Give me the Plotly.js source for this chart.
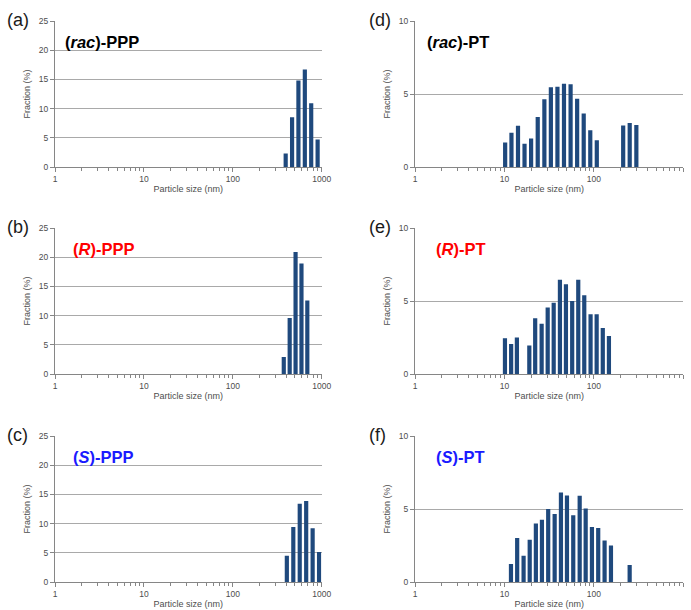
<!DOCTYPE html>
<html><head><meta charset="utf-8">
<script src="https://cdn.plot.ly/plotly-3.0.1.min.js"></script>
<style>html,body{margin:0;padding:0;background:#fff}#chart{width:691px;height:610px}</style>
</head><body><div id="chart"></div>
<script>
// ---- data ----
const sizesA = [394, 465, 548, 647, 763, 901];
const fracA  = [2.3, 8.5, 14.8, 16.7, 10.9, 4.7];
const sizesB = [375, 437, 509, 593, 690];
const fracB  = [2.9, 9.6, 20.9, 18.9, 12.6];
const sizesC = [406, 480, 567, 670, 792, 935];
const fracC  = [4.5, 9.4, 13.4, 13.85, 9.2, 5.15];
const sizesD = [10.2, 12.0, 14.2, 16.8, 19.9, 23.6, 28.0, 33.1, 39.2, 46.4, 55.0, 65.1, 77.1, 91.3, 108, 213, 252, 299];
const fracD  = [1.67, 2.35, 2.83, 1.6, 1.96, 3.43, 4.64, 5.47, 5.5, 5.7, 5.66, 4.67, 3.66, 2.52, 1.84, 2.85, 3.02, 2.87];
const sizesE = [10.15, 11.9, 13.8, 19.0, 22.1, 26.1, 30.5, 35.6, 41.8, 48.8, 57.3, 67, 78.2, 92, 107.6, 126, 147.6];
const fracE  = [2.45, 2.06, 2.5, 1.95, 3.82, 3.45, 4.56, 4.88, 6.45, 6.15, 5.0, 6.46, 5.4, 4.1, 4.1, 3.15, 2.6];
const sizesF = [11.85, 13.9, 16.4, 19.2, 22.5, 26.3, 30.9, 36.5, 42.9, 50.1, 58.9, 69.5, 81.1, 95.3, 112, 132, 155.5, 251.7];
const fracF  = [1.24, 3.02, 1.79, 2.9, 4.0, 4.27, 5.0, 4.66, 6.13, 5.92, 4.57, 5.91, 5.04, 3.77, 3.7, 2.85, 2.5, 1.17];
const xTickVals = [1, 10, 100, 1000];
const xTickText = ['1', '10', '100', '1000'];
const panelLetters = ['(a)', '(b)', '(c)', '(d)', '(e)', '(f)'];
const panelTitles = ['<b>(<i>rac</i>)-PPP</b>', '<b>(<i>R</i>)-PPP</b>', '<b>(<i>S</i>)-PPP</b>',
                     '<b>(<i>rac</i>)-PT</b>', '<b>(<i>R</i>)-PT</b>', '<b>(<i>S</i>)-PT</b>'];
const titleColors = ['#000000', '#ff0000', '#1a1aff', '#000000', '#ff0000', '#1a1aff'];

// ---- layout geometry ----
const W = 691, H = 610;
const FONT = 'Liberation Sans, Arial, sans-serif';
const cols = [[55, 321.7], [415, 683.3]];
const rows = [[21, 167], [228, 374], [436, 582]];
const panels = [
  {sx: sizesA, fy: fracA, col: 0, row: 0, ymax: 25},
  {sx: sizesB, fy: fracB, col: 0, row: 1, ymax: 25},
  {sx: sizesC, fy: fracC, col: 0, row: 2, ymax: 25},
  {sx: sizesD, fy: fracD, col: 1, row: 0, ymax: 10},
  {sx: sizesE, fy: fracE, col: 1, row: 1, ymax: 10},
  {sx: sizesF, fy: fracF, col: 1, row: 2, ymax: 10}
];
const minorVals = [];
for (let d = 1; d < 1000; d *= 10) for (let k = 2; k <= 9; k++) minorVals.push(k * d);

const axisGray = '#868686', textGray = '#4d4d4d';
const widthFactor = 0.108;
const data = [];
const layout = {
  width: W, height: H, margin: {l: 0, r: 0, t: 0, b: 0},
  paper_bgcolor: '#fff', plot_bgcolor: '#fff', showlegend: false,
  font: {family: FONT}, annotations: []
};
panels.forEach((p, i) => {
  const n = i + 1, sfx = n === 1 ? '' : String(n);
  data.push({
    type: 'bar', x: p.sx, y: p.fy,
    width: p.sx.map(s => s * widthFactor),
    marker: {color: '#1f497d', line: {width: 0}},
    xaxis: 'x' + sfx, yaxis: 'y' + sfx, hoverinfo: 'skip'
  });
  const [x0, x1] = cols[p.col], [y0, y1] = rows[p.row];
  layout['xaxis' + sfx] = {
    type: 'log', range: [0, 3], domain: [x0 / W, x1 / W], anchor: 'y' + sfx,
    tickvals: xTickVals, ticktext: xTickText,
    ticks: 'outside', ticklen: 4, tickcolor: axisGray,
    minor: {tickvals: minorVals, ticks: 'outside', ticklen: 3, tickcolor: axisGray, showgrid: false},
    showline: true, linecolor: axisGray, linewidth: 1,
    showgrid: false, zeroline: false, fixedrange: true,
    tickfont: {family: FONT, size: 8.5, color: textGray},
    title: {text: 'Particle size (nm)', font: {family: FONT, size: 9, color: textGray}, standoff: 2}
  };
  layout['yaxis' + sfx] = {
    range: [0, p.ymax], dtick: 5, domain: [1 - y1 / H, 1 - y0 / H], anchor: 'x' + sfx,
    ticks: 'outside', ticklen: 4, tickcolor: axisGray,
    showline: true, linecolor: axisGray, linewidth: 1,
    showgrid: true, gridcolor: '#a9a9a9', gridwidth: 1, zeroline: false, fixedrange: true,
    tickfont: {family: FONT, size: 8.5, color: textGray},
    title: {text: 'Fraction (%)', font: {family: FONT, size: 9, color: textGray}, standoff: 6}
  };
  // panel letter
  layout.annotations.push({
    xref: 'paper', yref: 'paper', x: (p.col === 0 ? 5 : 367) / W, y: 1 - (y0 - 1) / H,
    xanchor: 'left', yanchor: 'middle', showarrow: false,
    text: panelLetters[i], font: {family: FONT, size: 18, color: '#1a1a1a'}
  });
  // panel title
  layout.annotations.push({
    xref: 'paper', yref: 'paper',
    x: (p.col === 0 ? (p.row === 0 ? 63 : 71) : (p.row === 0 ? 425 : 434)) / W,
    y: 1 - (y0 + 20.5) / H,
    xanchor: 'left', yanchor: 'middle', showarrow: false,
    text: panelTitles[i], font: {family: FONT, size: 16.5, color: titleColors[i]}
  });
});
Plotly.newPlot('chart', data, layout, {displayModeBar: false, staticPlot: true});
</script></body></html>
